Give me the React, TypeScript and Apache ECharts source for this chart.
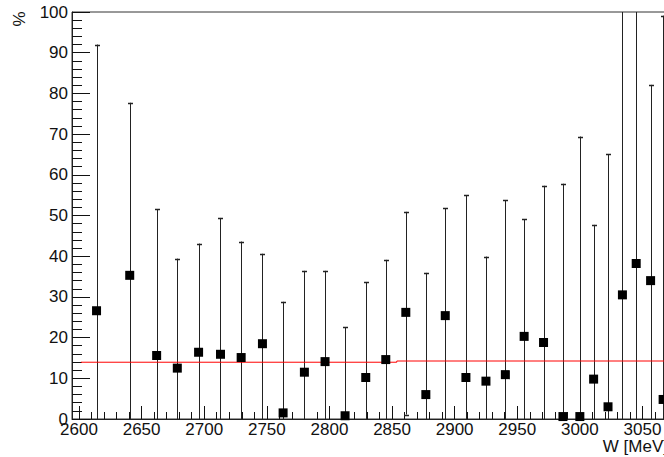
import React, { useEffect, useRef } from "react";
import * as echarts from "echarts";

// ---- data ----
const W_MEV = [
  2614, 2640.5, 2662, 2678.5, 2695.5, 2713, 2729.5, 2746.5, 2763, 2780,
  2796.5, 2812.5, 2829, 2845, 2861, 2877, 2892.5, 2909, 2925, 2940.5,
  2955.5, 2971, 2986.5, 3000, 3011, 3022.5, 3034, 3045, 3056.5, 3066.5,
];
const PERCENT = [
  26.6, 35.3, 15.6, 12.5, 16.4, 15.9, 15.1, 18.5, 1.5, 11.5,
  14.1, 0.8, 10.2, 14.6, 26.2, 6.0, 25.4, 10.2, 9.3, 10.9,
  20.3, 18.8, 0.6, 0.6, 9.8, 3.0, 30.5, 38.2, 34.0, 4.8,
];
const UPPER = [
  92.0, 77.7, 51.5, 39.4, 43.1, 49.4, 43.6, 40.6, 28.8, 36.4,
  36.4, 22.6, 33.6, 39.1, 50.9, 35.9, 51.8, 55.0, 39.9, 53.8,
  49.1, 57.3, 57.8, 69.4, 47.7, 65.1, 120, 120, 82.1, 99.1,
];
const LOWER = [
  0, 0, 0, 0, 0, 0, 0, 0, 0, 0,
  0, 0, 0, 0, 1.1, 0, 0, 0, 0, 0,
  0, 0, 0, 0, 0, 0, 0, 0, 0, 0,
];
const FIT_X = [2601.5, 2853.8, 2853.8, 3080];
const FIT_Y = [13.95, 13.95, 14.25, 14.25];

const X_MAJOR = [2600, 2650, 2700, 2750, 2800, 2850, 2900, 2950, 3000, 3050];
const X_MINOR = [
  2610, 2620, 2630, 2640, 2660, 2670, 2680, 2690, 2710, 2720, 2730, 2740,
  2760, 2770, 2780, 2790, 2810, 2820, 2830, 2840, 2860, 2870, 2880, 2890,
  2910, 2920, 2930, 2940, 2960, 2970, 2980, 2990, 3010, 3020, 3030, 3040,
  3060, 3070,
];
const X_MIN = 2594.4;
const X_MAX = 3070.4;
const Y_MIN = 0;
const Y_MAX = 100;
const X_TITLE = "W [MeV]";
const Y_TITLE = "%";

const FONT = "'Liberation Sans', Arial, Helvetica, sans-serif";
const FS = 17;

export default function App() {
  const ref = useRef<HTMLDivElement>(null);

  useEffect(() => {
    if (!ref.current) return;
    const chart = echarts.init(ref.current, undefined, { renderer: "svg" });

    const points = W_MEV.map((w, i) => [w, PERCENT[i]]);
    const bars = W_MEV.map((w, i) => [w, LOWER[i], UPPER[i]]);
    const fit = FIT_X.map((x, i) => [x, FIT_Y[i]]);

    const option: any = {
      animation: false,
      textStyle: { fontFamily: FONT },
      grid: {
        left: 72,
        top: 12,
        right: 32,
        bottom: 38,
        show: true,
        borderColor: "#333",
        borderWidth: 1,
        backgroundColor: "transparent",
      },
      xAxis: [
        {
          type: "value",
          min: X_MIN,
          max: X_MAX,
          position: "bottom",
          splitLine: { show: false },
          axisLine: { show: true, onZero: false, lineStyle: { color: "#222", width: 1 } },
          axisTick: {
            show: true,
            inside: true,
            length: 13,
            customValues: X_MAJOR,
            lineStyle: { color: "#111", width: 1 },
          },
          axisLabel: {
            show: true,
            customValues: X_MAJOR,
            formatter: (v: number) => String(Math.round(v)),
            fontSize: FS,
            color: "#111",
            margin: 2,
            fontFamily: FONT,
          },
        },
        {
          type: "value",
          min: X_MIN,
          max: X_MAX,
          position: "bottom",
          splitLine: { show: false },
          axisLine: { show: false, onZero: false },
          axisTick: {
            show: true,
            inside: true,
            length: 7,
            customValues: X_MINOR,
            lineStyle: { color: "#111", width: 1 },
          },
          axisLabel: { show: false },
        },
      ],
      yAxis: {
        type: "value",
        min: Y_MIN,
        max: Y_MAX,
        interval: 10,
        splitLine: { show: false },
        axisLine: { show: true, onZero: false, lineStyle: { color: "#222", width: 1 } },
        axisTick: { show: true, inside: true, length: 18, lineStyle: { color: "#111", width: 1 } },
        minorTick: { show: true, splitNumber: 5, length: 10, lineStyle: { color: "#111", width: 1 } },
        axisLabel: {
          fontSize: FS,
          color: "#111",
          margin: 4,
          showMinLabel: true,
          showMaxLabel: true,
          fontFamily: FONT,
        },
      },
      series: [
        {
          type: "custom",
          xAxisIndex: 0,
          yAxisIndex: 0,
          z: 1,
          data: bars,
          renderItem: (params: any, api: any) => {
            const x = api.value(0);
            const lo = api.value(1);
            const hi = api.value(2);
            const cs = params.coordSys;
            const pHi = api.coord([x, hi]);
            const pLo = api.coord([x, lo]);
            const top = Math.max(pHi[1], cs.y);
            const bottom = Math.min(pLo[1], cs.y + cs.height);
            const px = Math.round(pHi[0]) + 0.5;
            const style = { stroke: "#222", lineWidth: 1 };
            const children: any[] = [
              { type: "line", shape: { x1: px, y1: top, x2: px, y2: bottom }, style },
            ];
            if (hi < Y_MAX) {
              const cy = Math.round(pHi[1]) + 0.5;
              children.push({
                type: "line",
                shape: { x1: px - 2.5, y1: cy, x2: px + 2.5, y2: cy },
                style: { stroke: "#222", lineWidth: 1.5 },
              });
            }
            if (lo > Y_MIN) {
              const cy = Math.round(pLo[1]) + 0.5;
              children.push({
                type: "line",
                shape: { x1: px - 2.5, y1: cy, x2: px + 2.5, y2: cy },
                style: { stroke: "#222", lineWidth: 1.5 },
              });
            }
            return { type: "group", children };
          },
        },
        {
          type: "line",
          xAxisIndex: 0,
          yAxisIndex: 0,
          z: 2,
          data: fit,
          symbol: "none",
          clip: true,
          lineStyle: { color: "#ff0000", width: 1 },
        },
        {
          type: "scatter",
          xAxisIndex: 0,
          yAxisIndex: 0,
          z: 3,
          data: points,
          symbol: "rect",
          symbolSize: 9,
          itemStyle: { color: "#000", opacity: 1 },
        },
      ],
      graphic: [
        {
          type: "text",
          x: 19,
          y: 19,
          rotation: Math.PI / 2,
          style: {
            text: Y_TITLE,
            fontSize: FS,
            fontFamily: FONT,
            fill: "#111",
            align: "center",
            verticalAlign: "middle",
          },
        },
        {
          type: "text",
          x: 668,
          y: 446,
          style: {
            text: X_TITLE,
            fontSize: FS,
            fontFamily: FONT,
            fill: "#111",
            align: "right",
            verticalAlign: "middle",
          },
        },
      ],
    };

    chart.setOption(option);
    return () => chart.dispose();
  }, []);

  return (
    <div
      style={{
        position: "absolute",
        left: 0,
        top: 0,
        width: 664,
        height: 457,
        overflow: "hidden",
        background: "#fff",
      }}
    >
      <div ref={ref} style={{ width: 700, height: 457 }} />
    </div>
  );
}
